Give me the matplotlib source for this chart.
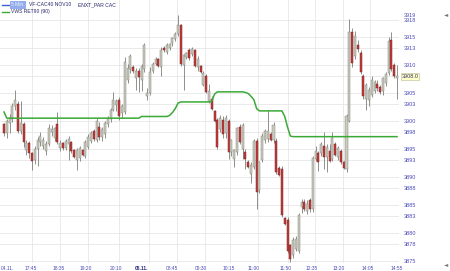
"""CAC40 5-min candles with the VWS RET90 (90) average line, redrawn to out.png."""
import matplotlib
matplotlib.use("Agg")
import matplotlib.pyplot as plt  # noqa: E402
from matplotlib.lines import Line2D  # noqa: E402
import numpy as np  # noqa: E402

# x axis labels (bar index where each label sits) and the grid positions
TIME_LABELS = ["04.11.", "17:45", "18:35", "19:20", "20:10", "05.11.", "08:45",
               "09:30", "10:15", "11:00", "11:50", "12:35", "13:20", "14:05", "14:55"]
TIME_LABEL_POS = [1.4, 9.6, 19.6, 29.2, 39.9, 49.1, 59.8, 70.2, 80.1, 89.0,
                  100.4, 109.7, 119.3, 129.6, 140.0]
TIME_GRID_POS = [10.0, 19.9, 29.9, 40.9, 51.6, 61.6, 71.6, 80.5, 90.5, 101.1,
                 110.8, 120.7, 130.3]
PRICE_TICKS = [3875, 3878, 3880, 3883, 3885, 3888, 3890, 3893, 3895, 3898, 3900,
               3903, 3905, 3908, 3910, 3913, 3915, 3918, 3919]
LAST_PRICE = 3908.0

OPENS = [
    3899.4, 3897.8, 3899.6, 3900.4, 3902.6, 3903.0, 3898.2, 3899.4, 3894.8, 3896.0,
    3894.2, 3893.0, 3895.0, 3896.2, 3895.6, 3894.6, 3895.8, 3898.0, 3897.0, 3899.4,
    3895.2, 3896.0, 3895.2, 3895.8, 3896.2, 3894.8, 3893.0, 3893.4, 3894.8, 3893.8,
    3895.4, 3896.4, 3898.2, 3896.6, 3899.0, 3897.2, 3897.6, 3899.4, 3900.4, 3902.0,
    3902.8, 3903.8, 3901.4, 3901.6, 3907.4, 3909.2, 3909.6, 3907.6, 3909.0, 3907.4,
    3909.2, 3904.4, 3905.0, 3909.0, 3910.2, 3911.0, 3909.6, 3913.0, 3912.4, 3913.0,
    3914.0, 3914.6, 3915.6, 3917.2, 3910.0, 3911.4, 3912.6, 3912.0, 3912.6, 3909.6,
    3909.8, 3906.5, 3908.0, 3903.6, 3904.0, 3901.8, 3900.2, 3898.6, 3900.2, 3897.8,
    3900.0, 3894.4, 3893.2, 3894.4, 3899.0, 3895.0, 3894.4, 3892.6, 3890.6, 3891.8,
    3896.4, 3887.6, 3893.0, 3896.6, 3896.8, 3897.6, 3896.6, 3896.4, 3891.6, 3891.4,
    3882.6, 3882.4, 3877.8, 3876.0, 3877.2, 3876.8, 3884.6, 3885.6, 3884.0, 3885.8,
    3884.2, 3893.2, 3894.2, 3894.2, 3895.6, 3893.6, 3894.6, 3893.2, 3895.8, 3893.6,
    3894.6, 3892.6, 3891.4, 3900.0, 3915.8, 3911.6, 3913.6, 3912.2, 3908.0, 3904.0,
    3903.8, 3904.6, 3905.4, 3906.6, 3906.0, 3905.4, 3906.8, 3908.6, 3914.4, 3910.0,
    3907.6,
]
HIGHS = [
    3899.6, 3900.4, 3901.2, 3903.2, 3905.6, 3903.6, 3903.6, 3899.8, 3896.6, 3896.4,
    3894.4, 3895.6, 3897.2, 3898.0, 3897.2, 3896.4, 3899.4, 3899.2, 3899.0, 3901.6,
    3896.6, 3896.2, 3896.8, 3897.4, 3896.4, 3895.0, 3895.2, 3895.6, 3895.0, 3896.6,
    3897.6, 3898.2, 3898.6, 3900.6, 3899.8, 3899.0, 3900.0, 3900.8, 3902.4, 3905.2,
    3904.0, 3904.2, 3903.0, 3911.4, 3910.2, 3912.0, 3910.0, 3909.4, 3909.4, 3910.2,
    3914.0, 3905.8, 3909.6, 3910.6, 3911.4, 3911.2, 3913.2, 3913.4, 3914.0, 3914.0,
    3915.0, 3915.8, 3919.0, 3917.4, 3912.0, 3912.4, 3913.0, 3913.2, 3912.8, 3911.6,
    3910.0, 3909.0, 3908.4, 3906.6, 3904.4, 3902.0, 3900.6, 3901.0, 3900.8, 3901.0,
    3900.4, 3896.8, 3895.0, 3899.0, 3899.4, 3899.6, 3895.0, 3893.0, 3892.6, 3896.8,
    3897.0, 3892.8, 3897.8, 3898.6, 3902.0, 3898.0, 3899.8, 3897.0, 3892.0, 3892.0,
    3882.8, 3882.8, 3878.0, 3879.2, 3879.4, 3883.6, 3886.0, 3886.0, 3885.8, 3886.2,
    3893.8, 3895.6, 3894.6, 3896.2, 3898.0, 3895.8, 3895.8, 3898.0, 3896.2, 3895.6,
    3895.0, 3892.8, 3901.2, 3918.2, 3916.6, 3916.0, 3914.4, 3912.6, 3908.4, 3906.8,
    3906.0, 3908.0, 3907.4, 3907.4, 3906.4, 3907.8, 3908.8, 3915.0, 3915.8, 3910.4,
    3910.0,
]
LOWS = [
    3897.3, 3897.0, 3897.8, 3899.8, 3902.0, 3897.8, 3897.6, 3895.4, 3894.0, 3893.4,
    3891.2, 3892.4, 3892.0, 3895.6, 3895.0, 3894.0, 3895.6, 3897.4, 3896.4, 3895.8,
    3894.6, 3894.8, 3894.8, 3893.0, 3894.2, 3893.4, 3891.2, 3892.8, 3893.8, 3893.4,
    3895.0, 3896.0, 3896.4, 3896.2, 3896.6, 3896.4, 3897.0, 3899.0, 3899.8, 3901.8,
    3901.8, 3900.2, 3900.6, 3901.2, 3906.8, 3908.6, 3908.6, 3905.6, 3905.2, 3905.4,
    3908.8, 3903.8, 3904.6, 3908.6, 3910.0, 3909.6, 3908.0, 3912.4, 3912.0, 3912.6,
    3913.4, 3914.2, 3915.2, 3909.8, 3905.6, 3911.0, 3910.8, 3911.6, 3909.6, 3909.0,
    3908.6, 3906.2, 3905.0, 3903.2, 3902.0, 3899.8, 3895.0, 3898.0, 3897.0, 3897.0,
    3893.2, 3893.8, 3891.8, 3894.0, 3895.8, 3893.2, 3891.4, 3891.6, 3889.0, 3891.4,
    3884.2, 3887.2, 3892.6, 3896.0, 3896.2, 3896.4, 3896.0, 3890.6, 3890.2, 3882.8,
    3881.4, 3876.4, 3874.8, 3875.6, 3876.8, 3876.4, 3883.6, 3884.0, 3883.4, 3883.8,
    3883.8, 3892.8, 3891.0, 3893.8, 3891.4, 3890.8, 3892.6, 3892.8, 3893.8, 3893.0,
    3892.4, 3891.4, 3890.8, 3899.8, 3909.6, 3911.0, 3912.4, 3908.4, 3904.0, 3902.0,
    3902.6, 3904.2, 3905.0, 3905.4, 3904.8, 3904.6, 3906.2, 3908.2, 3909.0, 3907.6,
    3904.0,
]
CLOSES = [
    3897.8, 3900.0, 3900.6, 3902.6, 3903.8, 3898.2, 3899.6, 3896.2, 3896.0, 3894.2,
    3892.8, 3895.0, 3896.6, 3897.4, 3896.6, 3895.8, 3898.8, 3898.6, 3898.8, 3896.2,
    3896.0, 3895.2, 3896.4, 3896.8, 3894.6, 3893.6, 3894.8, 3895.2, 3894.0, 3896.2,
    3897.2, 3897.8, 3896.8, 3900.0, 3897.2, 3898.6, 3899.6, 3900.6, 3902.0, 3903.8,
    3903.6, 3900.8, 3902.6, 3910.6, 3909.4, 3911.6, 3909.0, 3909.0, 3907.8, 3909.8,
    3913.6, 3905.0, 3908.8, 3910.2, 3911.0, 3909.8, 3912.6, 3912.6, 3913.6, 3913.8,
    3914.8, 3915.6, 3917.2, 3910.2, 3911.8, 3912.2, 3911.2, 3912.8, 3909.8, 3911.0,
    3908.8, 3908.6, 3905.2, 3905.4, 3902.2, 3900.0, 3895.4, 3900.6, 3897.6, 3900.6,
    3894.4, 3896.6, 3894.8, 3898.8, 3896.2, 3899.2, 3893.2, 3891.8, 3892.2, 3896.4,
    3887.4, 3892.6, 3897.4, 3898.2, 3898.2, 3896.6, 3899.2, 3890.8, 3890.4, 3883.2,
    3881.6, 3876.8, 3875.4, 3878.8, 3879.0, 3883.2, 3885.6, 3884.2, 3885.2, 3884.2,
    3893.4, 3894.6, 3892.6, 3895.8, 3893.6, 3895.4, 3892.8, 3897.0, 3894.0, 3895.2,
    3892.6, 3891.6, 3900.8, 3915.8, 3910.4, 3915.2, 3912.8, 3908.8, 3904.4, 3906.4,
    3905.6, 3907.4, 3907.0, 3905.8, 3905.2, 3907.6, 3908.4, 3914.2, 3909.2, 3908.0,
    3908.0,
]
# VWS RET90 (90) line, one value per bar
VWS_RET90 = [
    3901.6, 3900.5, 3900.5, 3900.5, 3900.5, 3900.5, 3900.5, 3900.5, 3900.5, 3900.5,
    3900.5, 3900.5, 3900.5, 3900.5, 3900.5, 3900.5, 3900.5, 3900.5, 3900.5, 3900.5,
    3900.5, 3900.5, 3900.5, 3900.5, 3900.5, 3900.5, 3900.5, 3900.5, 3900.5, 3900.5,
    3900.5, 3900.5, 3900.5, 3900.5, 3900.5, 3900.5, 3900.5, 3900.5, 3900.5, 3900.5,
    3900.5, 3900.5, 3900.5, 3900.5, 3900.5, 3900.5, 3900.5, 3900.5, 3900.5, 3900.8,
    3900.8, 3900.8, 3900.8, 3900.8, 3900.8, 3900.8, 3900.8, 3900.8, 3900.8, 3901.0,
    3901.5, 3902.2, 3903.2, 3903.4, 3903.4, 3903.4, 3903.4, 3903.4, 3903.4, 3903.4,
    3903.4, 3903.4, 3903.4, 3903.4, 3903.5, 3904.8, 3905.2, 3905.2, 3905.2, 3905.2,
    3905.2, 3905.2, 3905.2, 3905.2, 3905.2, 3905.2, 3905.1, 3904.9, 3904.4, 3903.8,
    3902.2, 3901.8, 3901.8, 3901.8, 3901.8, 3901.8, 3901.8, 3901.8, 3901.8, 3901.8,
    3900.8, 3898.9, 3897.3, 3897.2, 3897.2, 3897.2, 3897.2, 3897.2, 3897.2, 3897.2,
    3897.2, 3897.2, 3897.2, 3897.2, 3897.2, 3897.2, 3897.2, 3897.2, 3897.2, 3897.2,
    3897.2, 3897.2, 3897.2, 3897.2, 3897.2, 3897.2, 3897.2, 3897.2, 3897.2, 3897.2,
    3897.2, 3897.2, 3897.2, 3897.2, 3897.2, 3897.2, 3897.2, 3897.2, 3897.2, 3897.2,
    3897.2,
]

_W, _H = 450, 271
_UP_FACE = "#cbcbbf"
_UP_EDGE = "#85857c"
_DOWN_FACE = "#c23a3a"
_DOWN_EDGE = "#7c2626"
_WICK = "#7d7d78"
_MA_COLOR = "#3aa936"
_AXIS_TEXT = "#4a4ab8"
_LEGEND_TEXT = "#26266a"
_GRID = "#e6e6e6"

plt.rcParams["font.family"] = ["Liberation Sans", "DejaVu Sans"]

fig = plt.figure(figsize=(_W / 100, _H / 100), dpi=100)
# plot area: px 0..399 horizontally, px 0..263 from the top
ax = fig.add_axes([0, 8 / _H, 399 / _W, 263 / _H])

x = np.arange(len(CLOSES))
o = np.asarray(OPENS)
h = np.asarray(HIGHS)
l = np.asarray(LOWS)
c = np.asarray(CLOSES)
up = c >= o

# grid first, so candles sit on top
for g in PRICE_TICKS[:-1]:
    ax.axhline(g, color=_GRID, lw=0.6, zorder=0)
for g in TIME_GRID_POS:
    ax.axvline(g, color=_GRID, lw=0.6, zorder=0)

ax.vlines(x, l, h, colors=_WICK, linewidth=0.6, zorder=2)
body = np.where(np.abs(c - o) < 0.25, 0.25, np.abs(c - o))
ax.bar(x, body, bottom=np.minimum(o, c), width=0.72,
       color=np.where(up, _UP_FACE, _DOWN_FACE),
       edgecolor=np.where(up, _UP_EDGE, _DOWN_EDGE), linewidth=0.35, zorder=3)

ax.plot(x, VWS_RET90, color=_MA_COLOR, lw=1.1, zorder=4, solid_joinstyle="round")

ax.set_xlim(-1.42, 140.7)
ax.set_ylim(3874.64, 3921.6)
for s in ax.spines.values():
    s.set_visible(False)
ax.axvline(140.7, color="#d0d0d0", lw=0.6, zorder=1)

# price scale on the right; the tick under the last price box stays unlabeled
ax.yaxis.tick_right()
ax.set_yticks(PRICE_TICKS)
ax.set_yticklabels(["" if abs(t - LAST_PRICE) < 1 else str(t) for t in PRICE_TICKS])
ax.tick_params(axis="y", length=0, pad=3.5, labelsize=4.0, labelcolor=_AXIS_TEXT)

ax.set_xticks(TIME_LABEL_POS)
ax.set_xticklabels(TIME_LABELS)
ax.tick_params(axis="x", length=0, pad=2.0, labelsize=3.5, labelcolor=_AXIS_TEXT)
for lab in ax.get_xticklabels():
    if lab.get_text() == "05.11.":
        lab.set_fontweight("bold")
        lab.set_color("#26267a")

# last price marker
ax.text(1.006, LAST_PRICE, f"{LAST_PRICE:.1f}", transform=ax.get_yaxis_transform(),
        ha="left", va="center", fontsize=4.0, color="#33336a", zorder=6,
        bbox=dict(boxstyle="square,pad=0.15", fc="#ffffc8", ec="#b8b890", lw=0.4))

# legend rows, top left
row1, row2 = 1 - 5 / _H, 1 - 12 / _H
fig.add_artist(Line2D([2 / _W, 9 / _W], [row1, row1], color="#3c5fd8", lw=1.0))
fig.text(11 / _W, row1, "5 Min.", fontsize=3.6, color="#eef2ff",
         va="center", ha="left",
         bbox=dict(boxstyle="square,pad=0.25", fc="#93acec", ec="none"))
fig.text(29 / _W, row1, "VF-CAC40 NOV10", fontsize=3.6, color=_LEGEND_TEXT,
         va="center", ha="left")
fig.text(78 / _W, row1, "ENXT_PAR CAC", fontsize=3.6, color=_LEGEND_TEXT,
         va="center", ha="left")
fig.add_artist(Line2D([2 / _W, 9 / _W], [row2, row2], color=_MA_COLOR, lw=1.0))
fig.text(11 / _W, row2, "VWS RET90 (90)", fontsize=3.6, color=_LEGEND_TEXT,
         va="center", ha="left")

# small chart widget glyphs on the right edge
fig.text(446 / _W, 1 - 15 / _H, "\u25c4", fontsize=4, color="#777777",
         ha="center", va="center", family=["DejaVu Sans"])
fig.text(446 / _W, 1 - 265 / _H, "\u25c4", fontsize=4, color="#777777",
         ha="center", va="center", family=["DejaVu Sans"])

fig.savefig("out.png", dpi=100)
